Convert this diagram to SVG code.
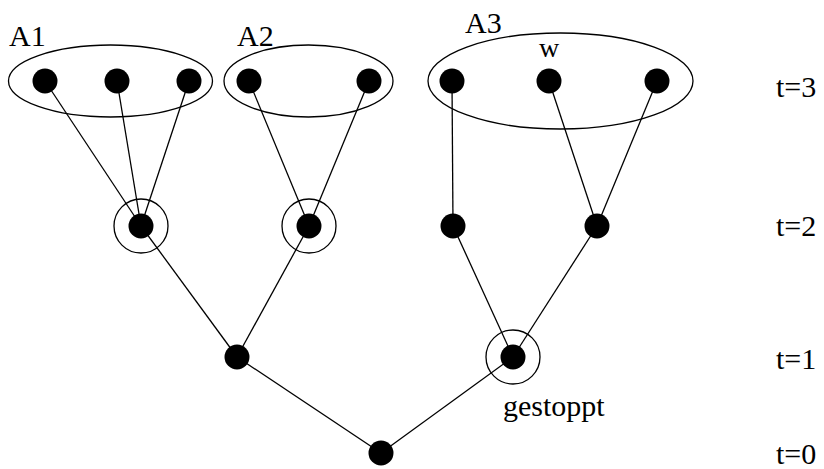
<svg xmlns="http://www.w3.org/2000/svg" width="824" height="469" viewBox="0 0 824 469">
<style>
.e{stroke:#000;stroke-width:1.3;fill:none}
.n{fill:#000}
.r{fill:none;stroke:#000;stroke-width:1.3}
.t{font-family:"Liberation Serif","Times New Roman",serif;fill:#000}
</style>
<rect width="824" height="469" fill="#fff"/>
<g id="connectors" class="e">
<line x1="45" y1="81" x2="141" y2="226"/>
<line x1="117" y1="81" x2="141" y2="226"/>
<line x1="189" y1="81" x2="141" y2="226"/>
<line x1="249" y1="81" x2="309" y2="226"/>
<line x1="369" y1="81" x2="309" y2="226"/>
<line x1="452" y1="81" x2="453" y2="226"/>
<line x1="549" y1="81" x2="597" y2="226"/>
<line x1="657" y1="81" x2="597" y2="226"/>
<line x1="141" y1="226" x2="237" y2="357"/>
<line x1="309" y1="226" x2="237" y2="357"/>
<line x1="453" y1="226" x2="513" y2="357"/>
<line x1="597" y1="226" x2="513" y2="357"/>
<line x1="237" y1="357" x2="381" y2="453"/>
<line x1="513" y1="357" x2="381" y2="453"/>
</g>
<g id="A1"><ellipse class="r" cx="110.5" cy="81" rx="102" ry="36"/><text class="t" x="9" y="46" font-size="30">A1</text></g>
<g id="A2"><ellipse class="r" cx="308.5" cy="81" rx="84.5" ry="36"/><text class="t" x="237" y="46" font-size="30">A2</text></g>
<g id="A3"><ellipse class="r" cx="560.5" cy="81" rx="132.5" ry="48"/><text class="t" x="465" y="33" font-size="30">A3</text></g>
<g id="n3a"><circle class="n" cx="45" cy="81" r="12.5"/></g>
<g id="n3b"><circle class="n" cx="117" cy="81" r="12.5"/></g>
<g id="n3c"><circle class="n" cx="189" cy="81" r="12.5"/></g>
<g id="n3d"><circle class="n" cx="249" cy="81" r="12.5"/></g>
<g id="n3e"><circle class="n" cx="369" cy="81" r="12.5"/></g>
<g id="n3f"><circle class="n" cx="452" cy="81" r="12.5"/></g>
<g id="n3w"><circle class="n" cx="549" cy="81" r="12.5"/><text class="t" x="539" y="57" font-size="28">w</text></g>
<g id="n3h"><circle class="n" cx="657" cy="81" r="12.5"/></g>
<g id="n2a"><circle class="r" cx="141" cy="226" r="27"/><circle class="n" cx="141" cy="226" r="12.5"/></g>
<g id="n2b"><circle class="r" cx="309" cy="226" r="27"/><circle class="n" cx="309" cy="226" r="12.5"/></g>
<g id="n2c"><circle class="n" cx="453" cy="226" r="12.5"/></g>
<g id="n2d"><circle class="n" cx="597" cy="226" r="12.5"/></g>
<g id="n1a"><circle class="n" cx="237" cy="357" r="12.5"/></g>
<g id="n1b"><circle class="r" cx="513" cy="357" r="27"/><circle class="n" cx="513" cy="357" r="12.5"/><text class="t" x="503" y="416" font-size="30">gestoppt</text></g>
<g id="n0"><circle class="n" cx="381" cy="453" r="12.5"/></g>
<g id="levels" class="t" font-size="30">
<text x="776" y="97">t=3</text>
<text x="776" y="236">t=2</text>
<text x="776" y="369">t=1</text>
<text x="776" y="464">t=0</text>
</g>
</svg>
